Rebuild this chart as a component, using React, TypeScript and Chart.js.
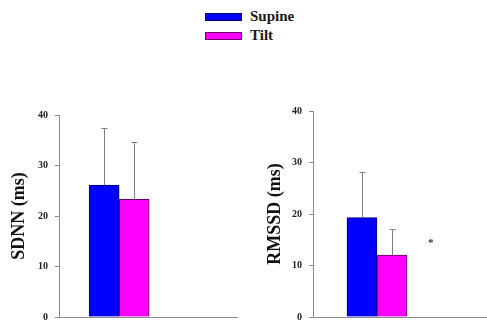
import React, { useEffect, useRef } from 'react';
import { Chart, registerables } from 'chart.js';

Chart.register(...registerables);

// ---- data ----
const seriesNames = ['Supine', 'Tilt'];
const seriesColors = ['#0000ff', '#ff00ff'];
const seriesBorders = ['#00006a', '#6a006a'];
const yTickValues = [0, 10, 20, 30, 40];

const sdnnMeans = [26.1, 23.3];
const sdnnErrors = [11.3, 11.3];
const rmssdMeans = [19.3, 12.0];
const rmssdErrors = [8.9, 5.0];

const SERIF = '"Liberation Serif", "Times New Roman", serif';
const AXIS_GRAY = '#8c8c8c';

const errorBarsPlugin = {
  id: 'errorBars',
  afterDatasetsDraw(chart: any) {
    const { ctx } = chart;
    const y = chart.scales.y;
    chart.data.datasets.forEach((ds: any, i: number) => {
      const meta = chart.getDatasetMeta(i);
      meta.data.forEach((bar: any, j: number) => {
        const v = ds.data[j].y;
        const e = ds.errors[j];
        const top = Math.round(y.getPixelForValue(v + e)) + 0.5;
        const x = Math.round(bar.x) + 0.5;
        ctx.save();
        ctx.strokeStyle = '#808080';
        ctx.lineWidth = 1;
        ctx.beginPath();
        ctx.moveTo(x, bar.y);
        ctx.lineTo(x, top);
        ctx.moveTo(x - 3, top);
        ctx.lineTo(x + 3, top);
        ctx.stroke();
        ctx.restore();
      });
    });
  },
};

const markPlugin = {
  id: 'sigMark',
  afterDatasetsDraw(chart: any, _args: any, opts: any) {
    if (!opts || !opts.text) return;
    const { ctx } = chart;
    const px = chart.scales.x.getPixelForValue(opts.x);
    const py = chart.scales.y.getPixelForValue(opts.y);
    ctx.save();
    ctx.fillStyle = '#333';
    ctx.font = `bold 11px ${SERIF}`;
    ctx.textAlign = 'center';
    ctx.textBaseline = 'middle';
    ctx.fillText(opts.text, px, py + 2);
    ctx.restore();
  },
};

type PanelProps = {
  title: string;
  means: number[];
  errors: number[];
  left: number;
  top: number;
  width: number;
  height: number;
  padRight: number;
  padBottom: number;
  axisWidth: number;
  titlePad: number;
  xMax: number;
  mark?: { text: string; x: number; y: number };
};

function Panel(p: PanelProps) {
  const ref = useRef<HTMLCanvasElement>(null);
  useEffect(() => {
    if (!ref.current) return;
    const chart = new Chart(ref.current, {
      type: 'bar',
      data: {
        datasets: seriesNames.map((name, i) => ({
          label: name,
          data: [{ x: 0, y: p.means[i] }],
          errors: [p.errors[i]],
          backgroundColor: seriesColors[i],
          borderColor: seriesBorders[i],
          borderWidth: 1,
          barThickness: 30,
        })) as any,
      },
      options: {
        animation: false,
        responsive: false,
        maintainAspectRatio: false,
        layout: { padding: { top: 15, right: p.padRight, bottom: p.padBottom, left: 0 } },
        plugins: {
          legend: { display: false },
          tooltip: { enabled: false },
          sigMark: p.mark || {},
        } as any,
        scales: {
          x: {
            type: 'linear',
            min: -0.5,
            max: p.xMax,
            offset: false,
            ticks: { display: false },
            grid: { display: false, drawTicks: false },
            border: { display: true, color: AXIS_GRAY, width: 1 },
            afterFit: (s: any) => { s.height = 0; },
          },
          y: {
            min: 0,
            max: 40,
            afterBuildTicks: (s: any) => { s.ticks = yTickValues.map((v) => ({ value: v })); },
            ticks: {
              color: '#222',
              font: { family: SERIF, size: 10, weight: 'bold' },
              padding: 7,
            },
            grid: { drawOnChartArea: false, drawTicks: true, tickLength: 4, color: AXIS_GRAY },
            border: { display: true, color: AXIS_GRAY, width: 1 },
            title: {
              display: true,
              text: p.title,
              color: '#111',
              font: { family: SERIF, size: 18, weight: 'bold' },
              padding: { top: p.titlePad, bottom: 0 },
            },
            afterFit: (s: any) => { s.width = p.axisWidth; },
          },
        } as any,
      },
      plugins: [errorBarsPlugin, markPlugin],
    } as any);
    return () => chart.destroy();
  }, []);
  return (
    <canvas
      ref={ref}
      width={p.width}
      height={p.height}
      style={{ position: 'absolute', left: p.left, top: p.top, width: p.width, height: p.height }}
    />
  );
}

export default function App() {
  return (
    <div
      style={{
        position: 'fixed',
        left: 0,
        top: 0,
        width: 487,
        height: 320,
        overflow: 'hidden',
        background: '#fff',
      }}
    >
      {seriesNames.map((name, i) => (
        <div key={name}>
          <div
            style={{
              position: 'absolute',
              left: 205,
              top: 13 + i * 19,
              width: 35,
              height: 6,
              background: seriesColors[i],
              border: `1px solid ${seriesBorders[i]}`,
            }}
          />
          <div
            style={{
              position: 'absolute',
              left: 250,
              top: 7 + i * 19,
              font: `bold 15px ${SERIF}`,
              color: '#1a1a1a',
              lineHeight: '18px',
              whiteSpace: 'nowrap',
            }}
          >
            {name}
          </div>
        </div>
      ))}
      <Panel
        title="SDNN (ms)"
        means={sdnnMeans}
        errors={sdnnErrors}
        left={0}
        top={100}
        width={245}
        height={230}
        padRight={8}
        padBottom={13}
        axisWidth={59}
        titlePad={9}
        xMax={0.98}
      />
      <Panel
        title="RMSSD (ms)"
        means={rmssdMeans}
        errors={rmssdErrors}
        left={250}
        top={96}
        width={237}
        height={234}
        padRight={0}
        padBottom={12}
        axisWidth={63}
        titlePad={15}
        xMax={0.86}
        mark={{ text: '*', x: 0.42, y: 14.7 }}
      />
    </div>
  );
}
